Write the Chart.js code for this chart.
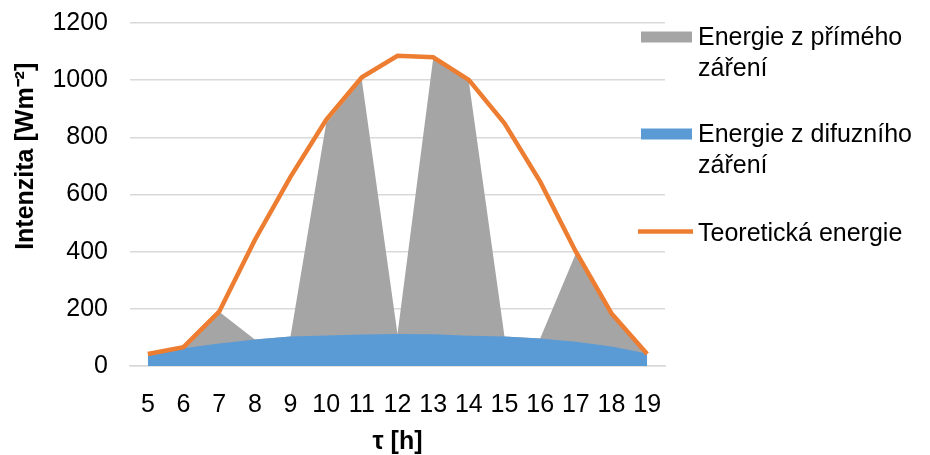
<!DOCTYPE html>
<html>
<head>
<meta charset="utf-8">
<script src="https://cdn.jsdelivr.net/npm/chart.js@4/dist/chart.umd.min.js"></script>
<style>
    html, body { margin: 0; padding: 0; background: #fff; }
</style>
</head>
<body>
<canvas id="myChart" width="930" height="455"></canvas>
<script>
const hours = ['5', '6', '7', '8', '9', '10', '11', '12', '13', '14', '15', '16', '17', '18', '19']

// values, W/m2
const primeZareni = [0, 4, 111, 0, 0, 742, 891, 0, 965, 889, 0, 0, 309, 110, 0]
const difuzniZareni = [42, 62, 79, 93, 103, 107, 110, 112, 111, 106, 103, 96, 85, 68, 44]
const teoretickaEnergie = [42, 66, 190, 441, 662, 861, 1010, 1085, 1080, 1001, 849, 645, 400, 184, 42]

const yTicks = [0, 200, 400, 600, 800, 1000, 1200]

const seriesNames = ['Energie z přímého záření', 'Energie z difuzního záření', 'Teoretická energie']
const legendLines = [
    ['Energie z přímého', 'záření'],
    ['Energie z difuzního', 'záření'],
    ['Teoretická energie'],
]

Chart.defaults.font.family = '"Liberation Sans", Arial, sans-serif'
Chart.defaults.color = '#000'

// legend drawn at the right like in the excel picture
const sideLegend = {
    id: 'sideLegend',
    afterDraw(chart) {
        const ctx = chart.ctx
        const rows = [45, 142, 241]
        ctx.save()
        ctx.font = '25px "Liberation Sans", Arial, sans-serif'
        ctx.textBaseline = 'alphabetic'
        chart.data.datasets.forEach((ds, i) => {
            const base = rows[i]
            if (ds.fill) {
                ctx.fillStyle = ds.backgroundColor
                ctx.fillRect(641, base - 13.5, 51, 11)
            } else {
                ctx.strokeStyle = ds.borderColor
                ctx.lineWidth = 4.5
                ctx.beginPath()
                ctx.moveTo(638, base - 9.5)
                ctx.lineTo(693, base - 9.5)
                ctx.stroke()
            }
            ctx.fillStyle = '#000'
            legendLines[i].forEach((t, j) => ctx.fillText(t, 698, base + j * 31))
        })
        ctx.restore()
    }
}

const data = {
    labels: hours,
    datasets: [{
        label: seriesNames[0],
        data: primeZareni,
        stack: 'zareni',
        order: 2,
        fill: 'origin',
        backgroundColor: '#a5a5a5',
        borderColor: 'rgba(0,0,0,0)',
        borderWidth: 0,
        pointRadius: 0,
    }, {
        label: seriesNames[1],
        data: difuzniZareni,
        stack: 'zareni',
        order: 1,
        fill: 'origin',
        backgroundColor: '#5b9bd5',
        borderColor: 'rgba(0,0,0,0)',
        borderWidth: 0,
        pointRadius: 0,
    }, {
        label: seriesNames[2],
        data: teoretickaEnergie,
        stack: 'teorie',
        order: 0,
        fill: false,
        borderColor: '#ed7d31',
        borderWidth: 4.5,
        pointRadius: 0,
    }]
}

const config = {
    type: 'line',
    data: data,
    plugins: [sideLegend],
    options: {
        responsive: false,
        animation: false,
        devicePixelRatio: 1,
        layout: { padding: { top: 23, right: 265, left: 0, bottom: 0 } },
        plugins: {
            legend: { display: false },
            tooltip: { enabled: false },
        },
        scales: {
            x: {
                offset: true,
                grid: { display: false },
                border: { display: true, color: '#d9d9d9', width: 1.5 },
                ticks: { padding: 16, font: { size: 25 }, maxRotation: 0, autoSkip: false },
                title: {
                    display: true,
                    text: 'τ [h]',
                    font: { size: 25, weight: 'bold', lineHeight: 1 },
                    padding: { top: 0, bottom: 0 },
                },
                afterFit: (scale) => { scale.height = 89 },
            },
            y: {
                stacked: true,
                min: 0,
                max: 1200,
                border: { display: false },
                // invisible tick marks keep the gap between labels and plot
                grid: { color: '#d9d9d9', lineWidth: 1.5, drawTicks: true, tickLength: 22, tickColor: 'rgba(0,0,0,0)' },
                ticks: { padding: 0, font: { size: 25 }, callback: (v) => String(v) },
                afterBuildTicks: (scale) => { scale.ticks = yTicks.map(v => ({ value: v })) },
                title: {
                    display: true,
                    text: '           Intenzita [Wm⁻²]',
                    font: { size: 25, weight: 'bold', lineHeight: 1.2 },
                    padding: { top: 11, bottom: 0 },
                },
                afterFit: (scale) => { scale.width = 130 },
            }
        }
    }
}

const myChart = new Chart(
    document.getElementById('myChart'),
    config
)
</script>
</body>
</html>
